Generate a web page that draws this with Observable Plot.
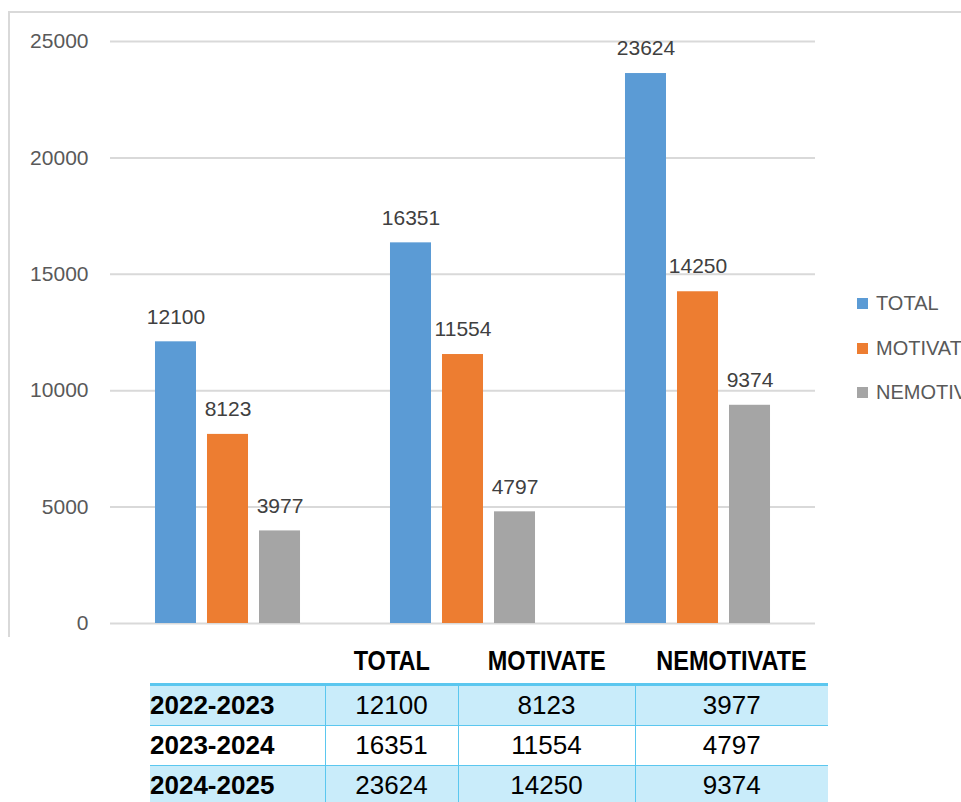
<!DOCTYPE html>
<html><head><meta charset="utf-8">
<script src="https://cdn.jsdelivr.net/npm/d3@7"></script>
<script src="https://cdn.jsdelivr.net/npm/@observablehq/plot@0.6"></script>
<style>
html,body{margin:0;padding:0;background:#fff;overflow:hidden;width:961px;height:802px;}
#wrap{position:relative;width:961px;height:802px;overflow:hidden;}
#frame{position:absolute;left:8px;top:11px;width:1000px;height:624px;border-top:2px solid #d9d9d9;border-left:2px solid #d9d9d9;}
#chart{position:absolute;left:0;top:0;}
#legend{position:absolute;left:857px;top:0;width:104px;height:640px;overflow:hidden;font-family:"Liberation Sans",Arial,sans-serif;font-size:20px;color:#595959;white-space:nowrap;}
.li{position:absolute;left:0;height:24px;line-height:24px;display:flex;align-items:center;}
.sw{width:11px;height:11px;margin-right:8px;flex:none;}
#tbl{position:absolute;left:150px;top:640px;border-collapse:collapse;table-layout:fixed;font-family:"Liberation Sans",Arial,sans-serif;color:#000;}
#tbl th{font-weight:bold;font-size:27px;height:43px;padding:0;text-align:center;vertical-align:middle;border-bottom:3px solid #5bc7ef;white-space:nowrap;}
#tbl th span{display:inline-block;transform:scaleX(0.87);transform-origin:center;}
#tbl td{height:39px;padding:0;font-size:26px;text-align:center;vertical-align:middle;border-bottom:1px solid #5bc7ef;border-left:1px solid #5bc7ef;}
#tbl td.lab{text-align:left;font-weight:bold;border-left:none;}
#tbl tr.alt td{background:#c9ecfa;}
</style>
</head><body>
<div id="wrap">
  <div id="frame"></div>
  <div id="chart"></div>
  <div id="legend"></div>
</div>
<script>
const periods = ["2022-2023", "2023-2024", "2024-2025"];
const series = ["TOTAL", "MOTIVATE", "NEMOTIVATE"];
const total = [12100, 16351, 23624];
const motivate = [8123, 11554, 14250];
const nemotivate = [3977, 4797, 9374];
const yTicks = [0, 5000, 10000, 15000, 20000, 25000];
const colors = ["#5b9bd5", "#ed7d31", "#a5a5a5"];

const seriesValues = [total, motivate, nemotivate];
const rows = [];
periods.forEach((p, i) => {
  series.forEach((s, j) => rows.push({period: p, series: s, value: seriesValues[j][i]}));
});

const chart = Plot.plot({
  width: 961,
  height: 640,
  marginLeft: 110,
  marginRight: 146,
  marginTop: 41,
  marginBottom: 17,
  style: {fontFamily: "'Liberation Sans', Arial, sans-serif", color: "#595959", background: "transparent"},
  fx: {domain: periods, padding: 0, round: false, axis: null},
  x: {domain: series, paddingInner: 11 / 52, paddingOuter: 0.865, round: false, axis: null},
  y: {domain: [0, 25000], axis: null, label: null},
  color: {domain: series, range: colors},
  marks: [
    Plot.gridY(yTicks, {stroke: "#d9d9d9", strokeOpacity: 1, strokeWidth: 2}),
    Plot.axisY(yTicks, {tickSize: 0, tickPadding: 22, fontSize: 21, label: null, tickFormat: d => String(d), fill: "#595959"}),
    Plot.barY(rows, {fx: "period", x: "series", y: "value", fill: "series"}),
    Plot.text(rows, {fx: "period", x: "series", y: "value", text: d => String(d.value), dy: -25, fontSize: 21, fill: "#404040"})
  ]
});
document.getElementById("chart").appendChild(chart);

// legend
const legend = document.getElementById("legend");
const legendCenters = [303, 348, 392];
series.forEach((s, i) => {
  const item = document.createElement("div");
  item.className = "li";
  item.style.top = (legendCenters[i] - 12) + "px";
  const sw = document.createElement("span");
  sw.className = "sw";
  sw.style.background = colors[i];
  const t = document.createElement("span");
  t.textContent = s;
  item.appendChild(sw);
  item.appendChild(t);
  legend.appendChild(item);
});

// data table
const table = document.createElement("table");
table.id = "tbl";
const colWidths = [175, 133, 177, 193];
const cg = document.createElement("colgroup");
colWidths.forEach(w => { const c = document.createElement("col"); c.style.width = w + "px"; cg.appendChild(c); });
table.appendChild(cg);
const thead = document.createElement("tr");
["", ...series].forEach(h => {
  const th = document.createElement("th");
  const sp = document.createElement("span");
  sp.textContent = h;
  th.appendChild(sp);
  thead.appendChild(th);
});
table.appendChild(thead);
periods.forEach((p, i) => {
  const tr = document.createElement("tr");
  if (i % 2 === 0) tr.className = "alt";
  const lab = document.createElement("td");
  lab.className = "lab";
  lab.textContent = p;
  tr.appendChild(lab);
  seriesValues.forEach(vals => {
    const td = document.createElement("td");
    td.textContent = String(vals[i]);
    tr.appendChild(td);
  });
  table.appendChild(tr);
});
document.getElementById("wrap").appendChild(table);
</script>
</body></html>
